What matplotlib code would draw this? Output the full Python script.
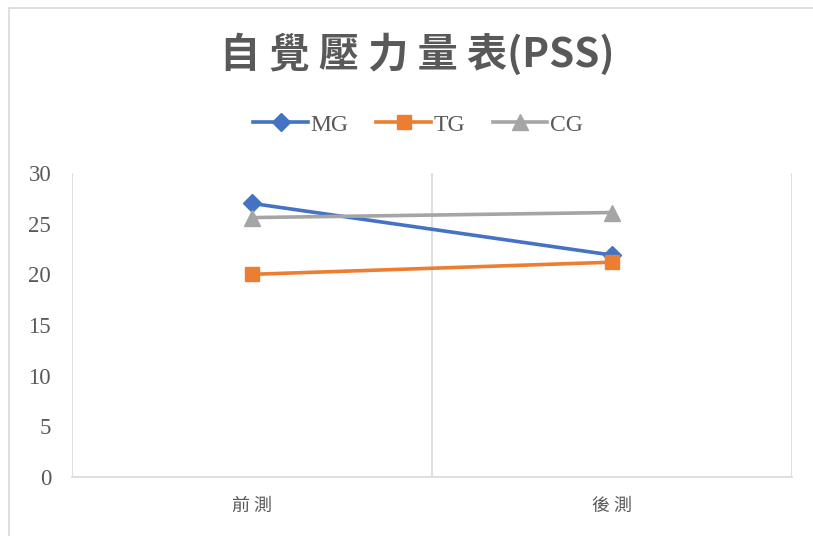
import matplotlib
matplotlib.use("Agg")
import matplotlib.pyplot as plt
from matplotlib.patches import Rectangle

categories = ["前 測", "後 測"]
mg = [27.0, 21.9]
tg = [20.0, 21.2]
cg = [25.6, 26.1]
series_names = ["MG", "TG", "CG"]
y_ticks = [0, 5, 10, 15, 20, 25, 30]

fig = plt.figure(figsize=(8.13, 5.36), dpi=100)
fig.patch.set_facecolor("white")

# outer chart frame
fig.add_artist(Rectangle((9 / 813, -0.05), 1.2, 1 - 8 / 536 + 0.05,
                         transform=fig.transFigure, fill=False,
                         edgecolor="#D9D9D9", linewidth=1.2))

ax = fig.add_axes([72 / 813, 1 - 477 / 536, 720 / 813, 304 / 536])
x = list(range(len(categories)))

ax.plot(x, mg, color="#4472C4", lw=2.6, marker="D", ms=9, label=series_names[0])
ax.plot(x, tg, color="#ED7D31", lw=2.6, marker="s", ms=10.5, label=series_names[1])
ax.plot(x, cg, color="#A5A5A5", lw=2.6, marker="^", ms=11.5, label=series_names[2])

ax.set_xlim(-0.5, len(categories) - 0.5)
ax.set_ylim(0, 30)
ax.set_yticks(y_ticks)
ax.set_yticklabels([str(v) for v in y_ticks], family="Liberation Serif",
                   fontsize=16.5, color="#595959")
ax.set_xticks(x)
ax.set_xticklabels(categories, family="Noto Sans CJK TC", fontsize=13,
                   color="#595959")
ax.tick_params(axis="both", length=0)
ax.tick_params(axis="y", pad=15)
ax.tick_params(axis="x", pad=14)

for s in ["left", "right", "top"]:
    ax.spines[s].set_visible(False)
ax.spines["bottom"].set_color("#D9D9D9")
ax.spines["bottom"].set_linewidth(1.2)

# category boundary lines
for b in [-0.5, 0.5, 1.5]:
    ax.axvline(b, color="#D9D9D9", lw=1.2, zorder=0)

fig.text(417 / 813, 1 - 55 / 536, "自 覺 壓 力 量 表(PSS)",
         family=["Noto Sans CJK TC", "DejaVu Sans"], fontsize=29,
         fontweight="bold", color="#595959", ha="center", va="center")

leg = ax.legend(loc="center", bbox_to_anchor=(418 / 813, 1 - 125 / 536),
                bbox_transform=fig.transFigure, ncol=3, frameon=False,
                prop={"family": "Liberation Serif", "size": 17},
                handlelength=2.3, handletextpad=0.1, columnspacing=1.2)
for t in leg.get_texts():
    t.set_color("#595959")

fig.savefig("out.png", dpi=100, facecolor="white")
